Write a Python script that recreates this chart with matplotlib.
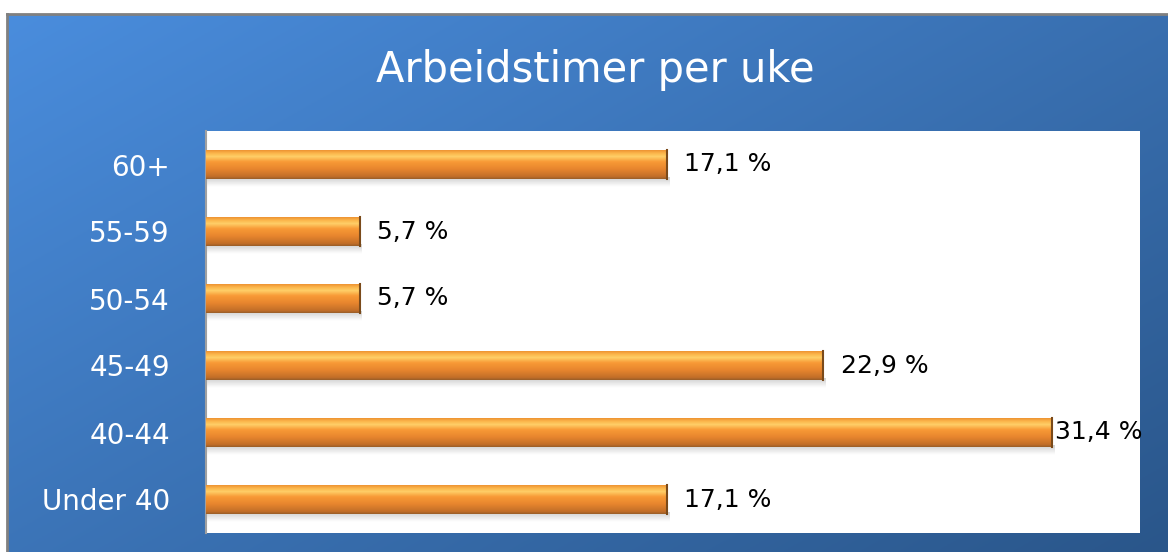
import numpy as np
import matplotlib
matplotlib.use("Agg")
import matplotlib.pyplot as plt
from matplotlib.colors import LinearSegmentedColormap

categories = ["Under 40", "40-44", "45-49", "50-54", "55-59", "60+"]
values = [17.1, 31.4, 22.9, 5.7, 5.7, 17.1]
labels = ["17,1 %", "31,4 %", "22,9 %", "5,7 %", "5,7 %", "17,1 %"]
title = "Arbeidstimer per uke"

W, H, DPI = 1168, 552, 100
fig = plt.figure(figsize=(W / DPI, H / DPI), dpi=DPI)
fig.patch.set_facecolor("white")

FONT = "DejaVu Sans"

# blue gradient panel
bg = fig.add_axes([7 / W, 0, 1 - 7 / W, 1 - 14 / H])
yy, xx = np.mgrid[0:1:200j, 0:1:400j]
t = 0.55 * xx + 0.45 * yy
c0 = np.array([0x4A, 0x8D, 0xDD]) / 255
c1 = np.array([0x2A, 0x56, 0x8A]) / 255
img = c0[None, None, :] * (1 - t[..., None]) + c1[None, None, :] * t[..., None]
bg.imshow(img, aspect="auto", extent=[0, 1, 0, 1], origin="upper")
bg.set_xlim(0, 1)
bg.set_ylim(0, 1)
for s in ["right", "bottom"]:
    bg.spines[s].set_visible(False)
for s in ["top", "left"]:
    bg.spines[s].set_color("#808080")
    bg.spines[s].set_linewidth(2)
bg.set_xticks([])
bg.set_yticks([])

fig.text(595 / W, 1 - 70 / H, title, color="white", fontsize=30,
         family=FONT, ha="center", va="center")

ax = fig.add_axes([206 / W, 1 - 533 / H, (1140 - 206) / W, (533 - 131) / H])
ax.set_facecolor("white")
y = np.arange(len(categories))
bars = ax.barh(y, values, height=0.42, color="none", edgecolor="none", zorder=3)
xmax = 34.65
ax.set_xlim(0, xmax)
ax.set_ylim(-0.5, len(categories) - 0.5)

cmap = LinearSegmentedColormap.from_list(
    "bar", [(0.0, "#9A5E28"), (0.08, "#C26E28"), (0.35, "#E8862E"),
            (0.6, "#F89A36"), (0.78, "#FFCF68"), (0.9, "#FBB54A"), (1.0, "#EE9433")])
grad = np.linspace(0, 1, 64)[:, None]
for b in bars:
    x0, y0 = b.get_x(), b.get_y()
    w, h = b.get_width(), b.get_height()
    ax.imshow(np.linspace(0, 1, 16)[:, None], cmap=LinearSegmentedColormap.from_list(
        "sh", ["#FFFFFF", "#D0D0D0"]), aspect="auto",
        extent=[x0 + 0.05, x0 + w + 0.1, y0 - 0.12, y0 + 0.02], origin="lower", zorder=2)
    ax.imshow(grad, cmap=cmap, aspect="auto", extent=[x0, x0 + w, y0, y0 + h],
              origin="lower", zorder=3)
    ax.plot([x0 + w, x0 + w], [y0, y0 + h], color="#7A4A1A", lw=1.5, zorder=4)

fig.canvas.draw()
renderer = fig.canvas.get_renderer()
for yi, v, lab in zip(y, values, labels):
    txt = ax.text(v + 0.65, yi, lab, va="center", ha="left", fontsize=18,
                  family=FONT, color="black", zorder=5)
    bb = txt.get_window_extent(renderer)
    right_px = ax.transData.transform((xmax, 0))[0]
    if bb.x1 > right_px:
        shift = bb.x1 - right_px
        new_x = ax.transData.inverted().transform((ax.transData.transform((v + 0.65, 0))[0] - shift, 0))[0]
        txt.set_x(max(new_x, v + 0.1))

ax.set_yticks(y)
ax.set_yticklabels(categories, color="white", fontsize=20, family=FONT)
ax.tick_params(axis="y", length=0, pad=26)
ax.set_xticks([])
for s in ["top", "right", "bottom"]:
    ax.spines[s].set_visible(False)
ax.spines["left"].set_color("#A0A0A0")
ax.spines["left"].set_linewidth(1.5)

fig.savefig("out.png", dpi=DPI)
